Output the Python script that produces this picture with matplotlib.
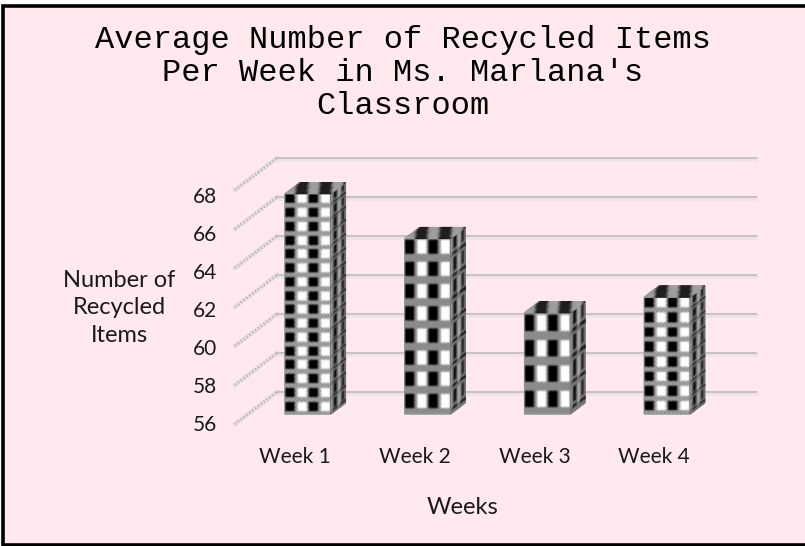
import numpy as np
import matplotlib
matplotlib.use("Agg")
import matplotlib.pyplot as plt
from matplotlib.patches import Rectangle

categories = ["Week 1", "Week 2", "Week 3", "Week 4"]
values = [67.3, 65.0, 61.2, 62.0]
y_ticks = [56, 58, 60, 62, 64, 66, 68]
pattern_rows = [16, 8, 4, 8]
title = "Average Number of Recycled Items\nPer Week in Ms. Marlana's\nClassroom"
y_title = "Number of\nRecycled\nItems"
x_title = "Weeks"

W, H = 805, 546
PINK = "#FFE9EE"
fig = plt.figure(figsize=(W / 100, H / 100), dpi=100, facecolor="white")
fig.patches.append(Rectangle((3 / W, 1 - 545 / H), 815 / W, 539.5 / H, transform=fig.transFigure,
                             facecolor=PINK, edgecolor="black", linewidth=2.6, zorder=-5))


def axes_px(l, t, r, b):
    return [l / W, 1 - b / H, (r - l) / W, (b - t) / H]


ax = fig.add_axes(axes_px(235, 190, 714, 424))
ax.set_xlim(0, 4)
ax.set_ylim(56, 68)
ax.patch.set_alpha(0)
ax.set_axis_off()

DX, DY = 42 / 119.75, 32 / 19.5   # depth of the floor in data units


def off(d):
    return DX * d, DY * d


# wall gridlines and floor diagonals
bx, by = off(1)
for t in y_ticks:
    ax.plot([bx, 4 + bx], [t + by - 0.05] * 2, color="#EFE3E6", lw=3.4, clip_on=False, zorder=1, solid_capstyle="round")
    ax.plot([bx, 4 + bx], [t + by + 0.02] * 2, color="#C9C2C4", lw=1.5, clip_on=False, zorder=1.1)
    ax.plot([0, bx], [t, t + by], color="#E8DEE1", lw=3.2, clip_on=False, zorder=1)
    ax.plot([0, bx], [t, t + by], color="#BDB6B8", lw=2.0, ls=(0, (0.5, 0.8)), clip_on=False, zorder=1.1)


def soften(tex):
    out = tex.copy()
    out[1:-1, :] = 0.25 * tex[:-2, :] + 0.5 * tex[1:-1, :] + 0.25 * tex[2:, :]
    res = out.copy()
    res[:, 1:-1] = 0.25 * out[:, :-2] + 0.5 * out[:, 1:-1] + 0.25 * out[:, 2:]
    return res


def front_tex(nx, ny, rows, dense):
    yy, xx = np.mgrid[0:ny, 0:nx]
    tex = np.full((ny, nx), 0.5)
    tex[(xx // 2 + yy // 2) % 2 == 0] = 0.72 if dense else 0.6
    rowp = (yy + 0.5) / ny * rows % 1
    colp = (xx + 0.5) / nx * 4
    lo, hi = (0.1, 0.76) if dense else (0.1, 0.74)
    in_row = (rowp > lo) & (rowp < hi)
    col_i = np.floor(colp).astype(int)
    col_f = colp - col_i
    in_col = (col_f > 0.1) & (col_f < 0.9)
    tex[in_row & in_col & (col_i % 2 == 0)] = 0.0
    tex[in_row & in_col & (col_i % 2 == 1)] = 1.0
    tex[:, 0] = 0.6
    tex[-1, :] = 0.6
    return soften(tex)


def side_tex(nx, ny, rows):
    yy, xx = np.mgrid[0:ny, 0:nx]
    tex = np.full((ny, nx), 0.48)
    rowp = (yy + 0.5) / ny * rows % 1
    col_f = (xx + 0.5) / nx * 2 % 1
    tex[(col_f > 0.5) & (col_f < 0.82) & (rowp < 0.6)] = 0.05
    tex[(col_f > 0.08) & (col_f < 0.26) & (rowp < 0.75)] = 0.72
    tex[(rowp > 0.72) & (rowp < 0.86) & (col_f > 0.3)] = 0.12
    return soften(tex)


def top_tex(nx, ny):
    yy, xx = np.mgrid[0:ny, 0:nx]
    tex = np.full((ny, nx), 0.62)
    colp = (xx + 0.5 + yy * 1.2) / nx * 4
    tex[np.floor(colp).astype(int) % 2 == 1] = 0.12
    tex[:, 0] = 0.6
    return soften(tex)


def face(origin, u, v, tex, z):
    ny, nx = tex.shape
    s, t = np.meshgrid(np.linspace(0, 1, nx), np.linspace(0, 1, ny))
    X = origin[0] + u[0] * s + v[0] * t
    Y = origin[1] + u[1] * s + v[1] * t
    ax.pcolormesh(X, Y, tex, shading="gouraud", cmap="gray", vmin=0, vmax=1,
                  clip_on=False, zorder=z, rasterized=True)


BAR_W = 46 / 119.75
D0, D1 = 0.31, 0.66
for i, (val, rows) in enumerate(zip(values, pattern_rows)):
    dense = rows > 8 or i == 3
    x0 = i + 0.5 - BAR_W / 2
    ox0, oy0 = off(D0)
    ox1, oy1 = off(D1)
    ddx, ddy = ox1 - ox0, oy1 - oy0
    base = (x0 + ox0, 56 + oy0)
    height = val - 56
    hpx = int(height * 19.5)
    # front face: origin at top-left, rows run downward
    face((base[0], base[1] + height), (BAR_W, 0), (0, -height), front_tex(46, hpx, rows, dense), 3)
    face((base[0] + BAR_W, base[1] + height), (ddx, ddy), (0, -height), side_tex(17, hpx, rows), 3)
    face((base[0], base[1] + height), (BAR_W, 0), (ddx, ddy), top_tex(46, 12), 3)

# labels
lab = fig.add_axes(axes_px(235, 195, 714, 423))
lab.set_xlim(0, 4)
lab.set_ylim(56, 68)
lab.patch.set_alpha(0)
for s in lab.spines.values():
    s.set_visible(False)
lab.set_yticks(y_ticks)
lab.set_xticks(np.arange(len(categories)) + 0.5, categories)
lab.tick_params(length=0, labelsize=15, labelcolor="#1a1a1a")
lab.tick_params(axis="y", pad=13)
lab.tick_params(axis="x", pad=17.5)
for t in lab.get_xticklabels() + lab.get_yticklabels():
    t.set_fontfamily("Lato")

fig.text(403 / W, 1 - 73 / H, title, family="Liberation Mono", fontsize=23, ha="center", va="center",
         color="black", linespacing=1.14)
fig.text(119 / W, 1 - 308 / H, y_title, family="Lato", fontsize=17, ha="center", va="center",
         color="#1a1a1a", linespacing=1.38)
fig.text(463 / W, 1 - 507 / H, x_title, family="Lato", fontsize=17, ha="center", va="center", color="#1a1a1a")

fig.savefig("out.png", dpi=100, facecolor="white")
